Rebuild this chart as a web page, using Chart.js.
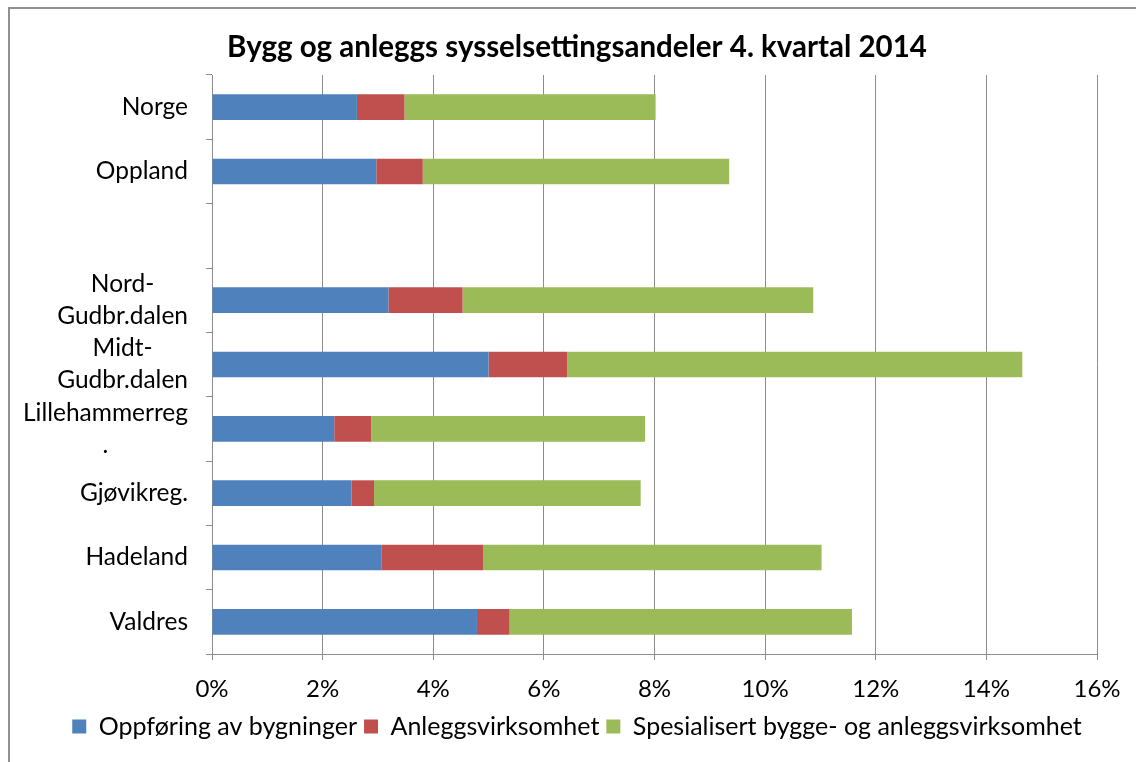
<!DOCTYPE html>
<html>
<head>
<meta charset="utf-8">
<script src="https://cdn.jsdelivr.net/npm/chart.js@4"></script>
<style>
  html, body { margin: 0; padding: 0; background: #fff; overflow: hidden; }
  #wrap { position: relative; width: 1136px; height: 762px; }
  #frame { position: absolute; left: 8px; top: 7px; width: 2000px; height: 2000px;
           border-left: 2px solid #8f8f8f; border-top: 2px solid #8f8f8f; pointer-events: none; }
</style>
</head>
<body>
<div id="wrap">
  <canvas id="c" width="1136" height="762"></canvas>
  <div id="frame"></div>
</div>
<script>
const title = "Bygg og anleggs sysselsettingsandeler 4. kvartal 2014";
const categories = [
  "Norge",
  "Oppland",
  "",
  ["Nord-", "Gudbr.dalen"],
  ["Midt-", "Gudbr.dalen"],
  ["Lillehammerreg", "."],
  "Gjøvikreg.",
  "Hadeland",
  "Valdres"
];
const seriesNames = [
  "Oppføring av bygninger",
  "Anleggsvirksomhet",
  "Spesialisert bygge- og anleggsvirksomhet"
];
const oppforing = [2.62, 2.97, null, 3.19, 5.00, 2.21, 2.52, 3.06, 4.79];
const anlegg    = [0.86, 0.84, null, 1.34, 1.42, 0.67, 0.41, 1.84, 0.59];
const spesial   = [4.54, 5.54, null, 6.34, 8.23, 4.95, 4.82, 6.12, 6.19];
const xTicks = [0, 2, 4, 6, 8, 10, 12, 14, 16];
const colors = ["#4F81BD", "#C0504D", "#9BBB59"];

const FONT = "Lato";
const GRID = "#8c8c8c";

const yLabelPlugin = {
  id: "yLabels",
  afterDraw(chart) {
    const ctx = chart.ctx;
    const y = chart.scales.y;
    ctx.save();
    ctx.font = "24.5px " + FONT;
    ctx.fillStyle = "#000";
    ctx.textAlign = "center";
    ctx.textBaseline = "middle";
    const right = y.right - 24;
    const lh = 32;
    categories.forEach((lab, i) => {
      const lines = Array.isArray(lab) ? lab : [lab];
      const w = Math.max(...lines.map(l => ctx.measureText(l).width));
      const cx = right - w / 2;
      const cy = y.getPixelForValue(i);
      lines.forEach((l, j) => {
        ctx.fillText(l, cx, cy + (j - (lines.length - 1) / 2) * lh);
      });
    });
    ctx.restore();
  }
};

new Chart(document.getElementById("c"), {
  type: "bar",
  data: {
    labels: categories,
    datasets: [
      { label: seriesNames[0], data: oppforing, backgroundColor: colors[0] },
      { label: seriesNames[1], data: anlegg, backgroundColor: colors[1] },
      { label: seriesNames[2], data: spesial, backgroundColor: colors[2] }
    ]
  },
  options: {
    indexAxis: "y",
    responsive: false,
    animation: false,
    devicePixelRatio: 1,
    layout: { padding: { left: 57, right: 39, top: 0, bottom: 13 } },
    datasets: { bar: { categoryPercentage: 1, barPercentage: 0.4, borderWidth: 0 } },
    scales: {
      x: {
        stacked: true,
        min: 0, max: 16,
        afterBuildTicks(scale) { scale.ticks = xTicks.map(v => ({ value: v })); },
        afterFit(scale) { scale.height = 53; scale.paddingLeft = 0; scale.paddingRight = 0; },
        grid: { color: GRID, lineWidth: 1, tickLength: 6, drawTicks: true },
        border: { color: GRID, width: 1 },
        ticks: {
          padding: 15,
          color: "#000",
          font: { family: FONT, size: 24 },
          maxRotation: 0,
          callback: (v) => v + "%"
        }
      },
      y: {
        stacked: true,
        afterFit(scale) { scale.width = 155; },
        grid: { drawOnChartArea: false, drawTicks: true, tickLength: 6, color: GRID, offset: true },
        border: { color: GRID, width: 1 },
        ticks: { display: false }
      }
    },
    plugins: {
      title: {
        display: true,
        text: title,
        color: "#000",
        font: { family: FONT, size: 29.5, weight: "bold", lineHeight: 1.2 },
        padding: { top: 30, bottom: 9.6 }
      },
      legend: {
        position: "bottom",
        labels: {
          color: "#000",
          font: { family: FONT, size: 25 },
          boxWidth: 14,
          boxHeight: 14,
          padding: 7
        }
      },
      tooltip: { enabled: false }
    }
  },
  plugins: [yLabelPlugin]
});
</script>
</body>
</html>
